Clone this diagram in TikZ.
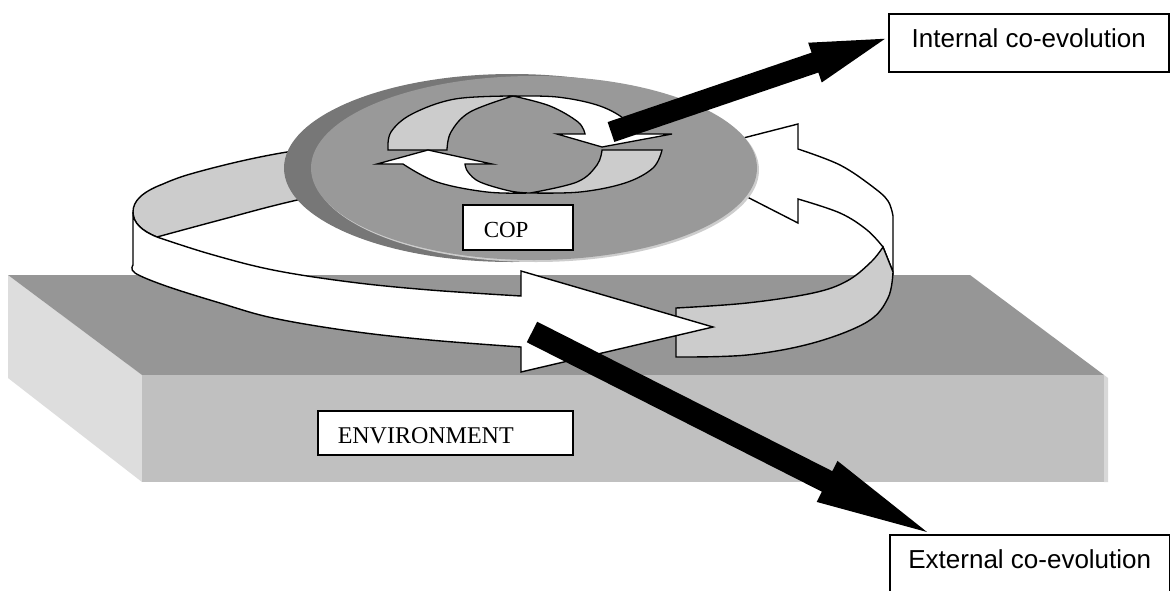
\documentclass[tikz,border=0pt]{standalone}
\usepackage{fontspec}
\setmainfont{Liberation Serif}
\newfontfamily\arialfont{Liberation Sans}
\usetikzlibrary{calc}
\definecolor{slabtop}{HTML}{969696}
\definecolor{slabfront}{HTML}{C0C0C0}
\definecolor{slableft}{HTML}{DDDDDD}
\definecolor{slabedge}{HTML}{D8D8D8}
\definecolor{ribgray}{HTML}{CCCCCC}
\definecolor{diskface}{HTML}{999999}
\definecolor{diskrim}{HTML}{777777}
\definecolor{disklight}{HTML}{CDCDCD}
\begin{document}
\begin{tikzpicture}[x=1pt,y=-1pt,
  rib/.style={draw=black, line width=1.4pt, line join=miter},
  cyc/.style={draw=black, line width=1.3pt, line join=miter},
  lbl/.style={draw=black, line width=1.5pt, fill=white, inner sep=0pt},
  sm/.style={smooth, tension=0.6}]
\useasboundingbox (0,0) rectangle (1170,590);
\clip (0,0) rectangle (1170,590);
\fill[white] (0,0) rectangle (1170,590);

% environment slab
\fill[slableft] (8,275) -- (142,375) -- (142,482) -- (8,378) -- cycle;
\fill[slabtop] (8,275) -- (970,275) -- (1104,375) -- (142,375) -- cycle;
\fill[slabfront] (142,375) rectangle (1104,482);
\fill[slabedge] (1104,375) -- (1108,378) -- (1108,482) -- (1104,482) -- cycle;

% big ribbon: back parts
\filldraw[rib, fill=ribgray] (133,212) .. controls (133,201) and (142,192) .. (163,184)
  -- plot[sm] coordinates {(163,184) (187,175) (237,162) (287,152) (340,145) (400,139)}
  -- (400,178)
  -- plot[sm] coordinates {(400,178) (293,201) (220,220) (157,237)}
  .. controls (142,231) and (133,223) .. (133,212) -- cycle;
\filldraw[rib, fill=white] (669,157) -- (798,124) -- (798,149)
  -- plot[sm] coordinates {(798,149) (840,165) (873,187) (888,201) (893,216)}
  -- (893,272) -- (883,247)
  -- plot[sm] coordinates {(883,247) (867,230) (840,213) (798,199)}
  -- (798,223) -- cycle;
\filldraw[rib, fill=ribgray] (676,308)
  -- plot[sm] coordinates {(676,308) (747,303) (813,293) (847,281) (871,262) (883,247)}
  -- (893,272)
  -- plot[sm] coordinates {(893,272) (888,298) (867,322) (813,343) (747,355) (676,357)}
  -- cycle;

% disk (COP)
\fill[diskrim] (512,168) ellipse [x radius=228, y radius=94];
\fill[disklight] (536,170) ellipse [x radius=223, y radius=92];
\fill[diskface] (534,168) ellipse [x radius=223, y radius=92];

% inner cycle arrows
\filldraw[cyc, fill=ribgray] plot[sm] coordinates {(513,96) (455,99) (412,114) (391,132) (388,150)}
  -- (447,150)
  -- plot[sm] coordinates {(447,150) (451,132) (470,112) (513,96)} -- cycle;
\filldraw[cyc, fill=white] plot[sm] coordinates {(530,193) (487,192) (437,182) (403,164)}
  -- (377,164) -- (428,150) -- (492,164) -- (465,164)
  -- plot[sm] coordinates {(465,164) (468,172) (480,182) (510,191) (530,193)} -- cycle;
\filldraw[cyc, fill=ribgray] (602,150) -- (662,150)
  -- plot[sm] coordinates {(662,150) (653,168) (625,183) (580,192) (530,193)}
  -- plot[sm] coordinates {(530,193) (577,182) (597,165) (602,150)} -- cycle;
\filldraw[cyc, fill=white] plot[sm] coordinates {(513,96) (557,97) (597,105) (623,118) (637,134)}
  -- (672,134) -- (602,147) -- (557,134) -- (585,134)
  -- plot[sm] coordinates {(585,134) (578,122) (550,106) (513,96)} -- cycle;

\node[lbl, anchor=north west, minimum height=45pt, text width=68pt, inner xsep=21pt,
  text height=26pt, text depth=5pt, align=left, font=\fontsize{23}{27}\selectfont]
  (cop) at (462,204) {COP};

% big ribbon: front arrow
\filldraw[rib, fill=white] (133,212) -- (133,265)
  -- plot[sm] coordinates {(133,265) (135,273) (166,286) (220,303) (273,318) (350,331) (430,340) (521,347)}
  -- (521,372) -- (713,327) -- (521,271) -- (521,296)
  -- plot[sm] coordinates {(521,296) (430,290) (350,282) (273,270) (210,254) (157,237)}
  .. controls (142,231) and (133,223) .. (133,212) -- cycle;

% labels
\node[lbl, anchor=north west, minimum height=44pt, text width=215pt, inner xsep=20pt,
  text height=27pt, text depth=5pt, align=left, font=\fontsize{24}{28}\selectfont]
  (env) at (317,410) {ENVIRONMENT};
\node[lbl, anchor=north west, minimum width=280pt, minimum height=58pt,
  text height=22pt, text depth=12pt, font=\arialfont\fontsize{26}{31}\selectfont]
  (int) at (888,13) {Internal co-evolution};
\node[lbl, anchor=north west, minimum width=280pt, minimum height=66pt,
  text height=20pt, text depth=18pt, font=\arialfont\fontsize{26}{31}\selectfont]
  (ext) at (889,534) {External co-evolution};

% black arrows
\coordinate (ia) at (611,132);
\coordinate (ip) at ($(int.west)+(-3,-4)$);
\coordinate (ib) at ($(ip)!74pt!(ia)$);
\fill[black] ($(ia)!10.5pt!90:(ip)$) -- ($(ib)!10.5pt!90:(ip)$) -- ($(ib)!21pt!90:(ip)$)
  -- (ip) -- ($(ib)!21pt!-90:(ip)$) -- ($(ib)!10.5pt!-90:(ip)$) -- ($(ia)!10.5pt!-90:(ip)$) -- cycle;
\coordinate (ea) at (532,332);
\coordinate (ep) at ($(ext.north west)+(38,-2)$);
\coordinate (eb) at ($(ep)!112pt!(ea)$);
\fill[black] ($(ea)!11.5pt!90:(ep)$) -- ($(eb)!11.5pt!90:(ep)$) -- ($(eb)!23pt!90:(ep)$)
  -- (ep) -- ($(eb)!23pt!-90:(ep)$) -- ($(eb)!11.5pt!-90:(ep)$) -- ($(ea)!11.5pt!-90:(ep)$) -- cycle;
\end{tikzpicture}
\end{document}
